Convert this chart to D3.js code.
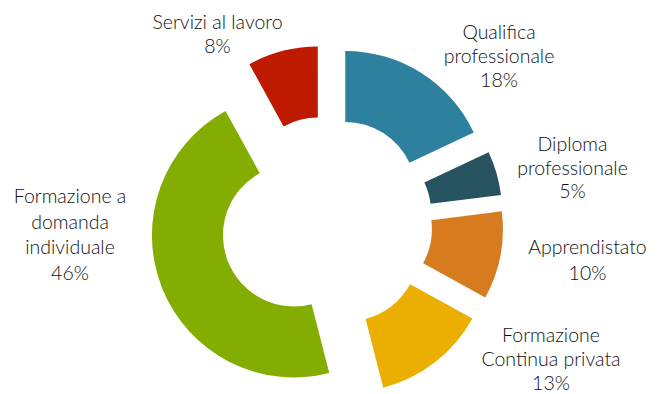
<!DOCTYPE html>
<html>
<head>
<meta charset="utf-8">
<script src="https://cdn.jsdelivr.net/npm/d3@7"></script>
<style>
  html, body { margin: 0; padding: 0; background: #ffffff; }
  svg { display: block; }
  text { font-family: Lato, "Open Sans", sans-serif; fill: #111111; }
</style>
</head>
<body>
<svg id="chart" width="667" height="394"></svg>
<script>
// Share of participants by type of training
const categories = [
  ["Qualifica", "professionale"],
  ["Diploma", "professionale"],
  ["Apprendistato"],
  ["Formazione", "Continua privata"],
  ["Formazione a", "domanda", "individuale"],
  ["Servizi al lavoro"]
];
const shares = [18, 5, 10, 13, 46, 8];
const colors = ["#2e809f", "#27525f", "#d67c1f", "#eaaf00", "#83ad00", "#bd1a00"];

// Label anchors (centre x, first baseline y, line step)
const labelAnchors = [
  [499, 39, 24], [572.5, 151, 23.5], [587.5, 254, 25.5], [551, 342, 24], [70, 203, 25.5], [217.5, 29, 24]
];

const width = 667, height = 394;
const cx = 326.5, cy = 222.5;
const outerR = 142, innerR = 71, explode = 35;

const svg = d3.select("#chart");

const pie = d3.pie().sort(null).value(d => d);
const arc = d3.arc().innerRadius(innerR).outerRadius(outerR);

const slices = pie(shares);

const g = svg.append("g").attr("transform", `translate(${cx},${cy})`);

// Every slice is pulled out along its bisector
g.selectAll("path")
  .data(slices)
  .join("path")
  .attr("fill", (d, i) => colors[i])
  .attr("transform", d => {
    const a = (d.startAngle + d.endAngle) / 2;
    return `translate(${Math.sin(a) * explode},${-Math.cos(a) * explode})`;
  })
  .attr("d", arc);

const labels = svg.selectAll("text.lbl")
  .data(slices)
  .join("text")
  .attr("class", "lbl")
  .attr("text-anchor", "middle")
  .attr("font-size", 19.5)
  .attr("font-weight", 300)
  .attr("x", (d, i) => labelAnchors[i][0])
  .attr("y", (d, i) => labelAnchors[i][1]);

labels.each(function (d, i) {
  const t = d3.select(this);
  const lines = categories[i].concat([d.data + "%"]);
  lines.forEach((s, k) => {
    t.append("tspan")
      .attr("x", labelAnchors[i][0])
      .attr("dy", k === 0 ? 0 : labelAnchors[i][2])
      .text(s);
  });
});
</script>
</body>
</html>
